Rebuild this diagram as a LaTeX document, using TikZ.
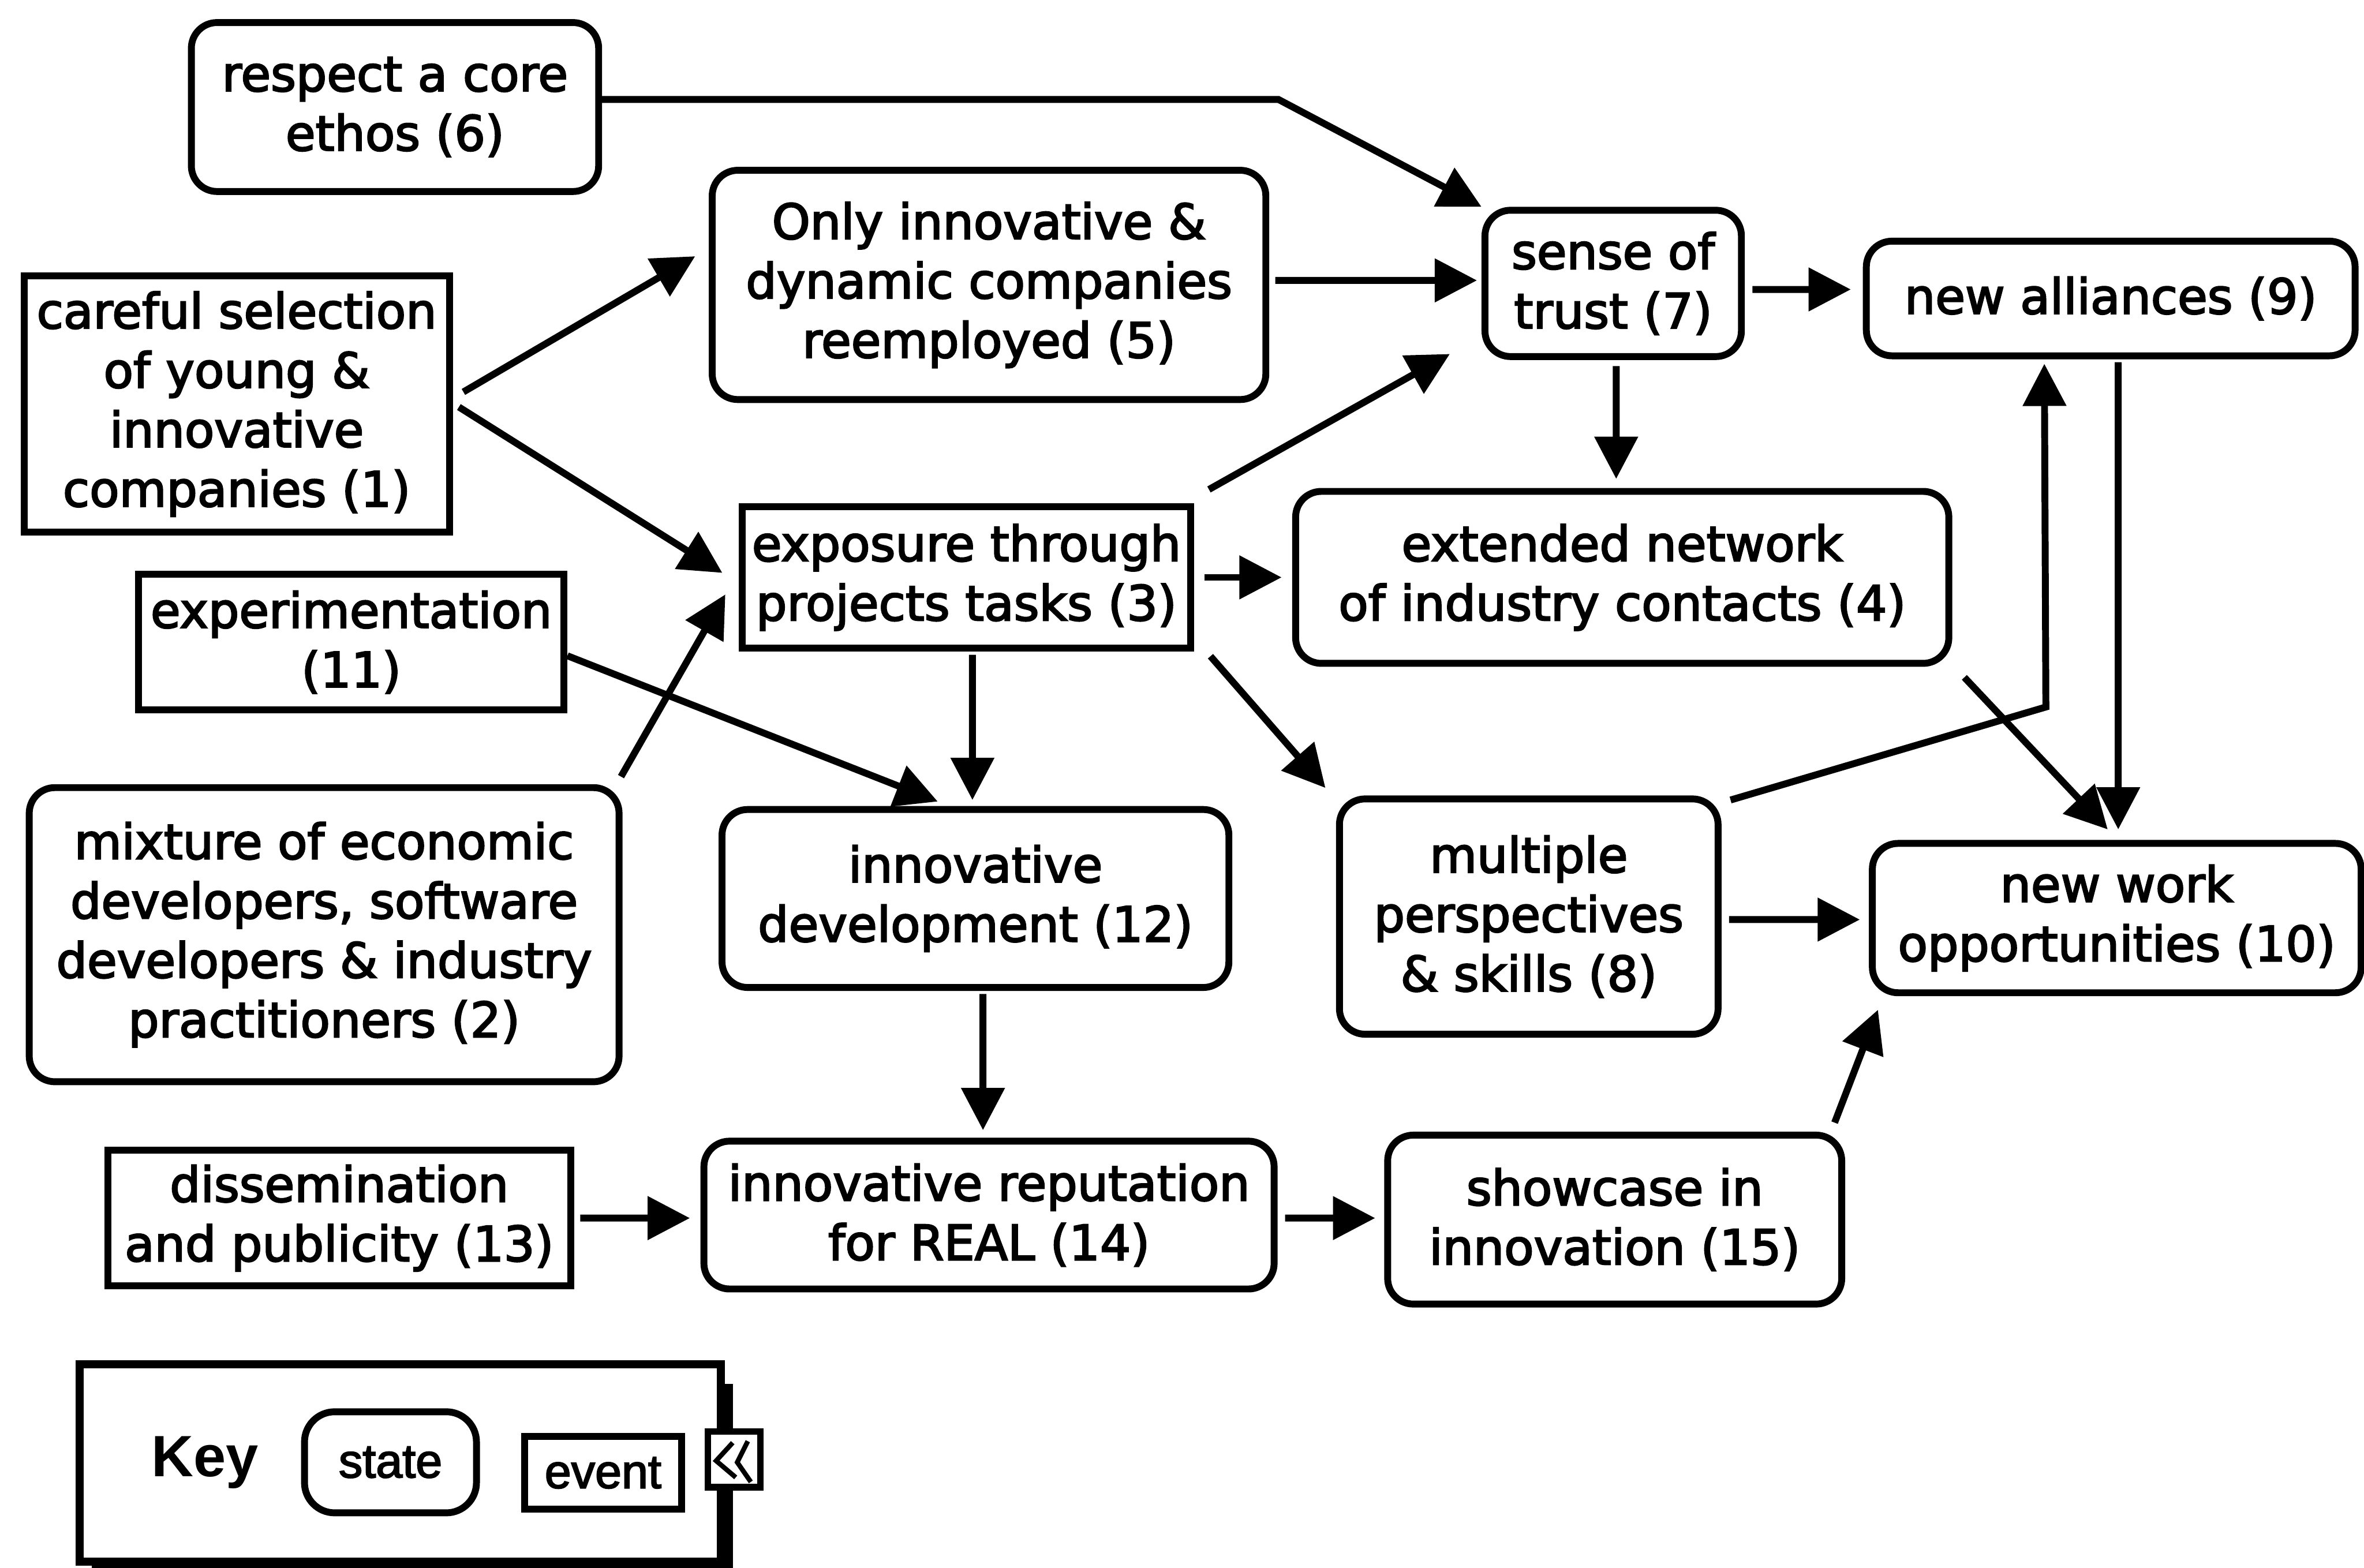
\documentclass[tikz,border=0pt]{standalone}
\usepackage{fontspec}
\usetikzlibrary{arrows.meta}
\newfontfamily\nodefont[FakeBold=3]{DejaVu Sans}
\newfontfamily\keyfont[FakeBold=2.5]{Liberation Sans}
\newfontfamily\keyboldfont{Liberation Sans Bold}
\begin{document}
\begin{tikzpicture}[x=0.01cm,y=-0.01cm,
  box/.style={draw, line width=1.3pt, align=center, inner sep=0pt,
    font=\nodefont\fontsize{9.15}{11.2}\selectfont},
  state/.style={box, rounded corners=0.17cm},
  event/.style={box},
  arr/.style={line width=1.3pt, -{Triangle[length=0.28cm,width=0.28cm]}},
  keytext/.style={font=\keyfont\fontsize{9}{11}\selectfont}]
\useasboundingbox (0,0) rectangle (1568,1040);

% states and events
\node[state, minimum width=2.70cm, minimum height=1.12cm] (n6) at (262,71) {respect a core\\ethos (6)};
\node[event, minimum width=2.82cm, minimum height=1.70cm] (n1) at (157,268) {careful selection\\of young \&\\innovative\\companies (1)};
\node[state, minimum width=3.67cm, minimum height=1.52cm] (n5) at (656,189) {Only innovative \&\\dynamic companies\\reemployed (5)};
\node[state, minimum width=1.70cm, minimum height=0.97cm] (n7) at (1070,188) {sense of\\trust (7)};
\node[state, minimum width=3.24cm, minimum height=0.76cm] (n9) at (1400,198) {new alliances (9)};
\node[event, minimum width=2.97cm, minimum height=0.94cm] (n3) at (641,383) {exposure through\\projects tasks (3)};
\node[state, minimum width=4.33cm, minimum height=1.14cm] (n4) at (1076,383) {extended network\\of industry contacts (4)};
\node[event, minimum width=2.82cm, minimum height=0.90cm] (n11) at (233,426) {experimentation\\(11)};
\node[state, minimum width=3.91cm, minimum height=1.95cm] (n2) at (215,620) {mixture of economic\\developers, software\\developers \& industry\\practitioners (2)};
\node[state, minimum width=3.36cm, minimum height=1.18cm] (n12) at (647,596) {innovative\\development (12)};
\node[state, minimum width=2.51cm, minimum height=1.56cm] (n8) at (1014,608) {multiple\\perspectives\\\& skills (8)};
\node[state, minimum width=3.24cm, minimum height=0.99cm] (n10) at (1404,609) {new work\\opportunities (10)};
\node[event, minimum width=3.07cm, minimum height=0.90cm] (n13) at (225,808) {dissemination\\and publicity (13)};
\node[state, minimum width=3.78cm, minimum height=0.98cm] (n14) at (656,806) {innovative reputation\\for REAL (14)};
\node[state, minimum width=3.01cm, minimum height=1.12cm] (n15) at (1071,809) {showcase in\\innovation (15)};

% bend points
\coordinate (b67) at (848,66);
\coordinate (b89) at (1357,469);

% connectors
\draw[arr] ([yshift=0.05cm]n6.east) -- (b67) -- (n7.north west);
\draw[arr] ([xshift=0.07cm,yshift=0.08cm]n1.east) -- ([xshift=-0.09cm,yshift=0.19cm]n5.west);
\draw[arr] ([xshift=0.04cm,yshift=-0.02cm]n1.east) -- ([xshift=-0.11cm,yshift=0.03cm]n3.west);
\draw[arr] ([xshift=0.04cm,yshift=0.03cm]n5.east) -- ([xshift=-0.03cm,yshift=0.02cm]n7.west);
\draw[arr] ([xshift=0.1cm,yshift=0.09cm]n3.north east) -- ([xshift=-0.21cm,yshift=0.04cm]n7.south west);
\draw[arr] ([xshift=0.05cm,yshift=-0.04cm]n7.east) -- ([xshift=-0.08cm,yshift=0.06cm]n9.west);
\draw[arr] ([xshift=0.02cm,yshift=-0.04cm]n7.south) -- ([xshift=-0.04cm,yshift=0.06cm]n4.north);
\draw[arr] ([xshift=0.07cm]n3.east) -- ([xshift=-0.07cm]n4.west);
\draw[arr] ([yshift=-0.09cm]n11.east) -- ([xshift=-0.25cm,yshift=0.03cm]n12.north);
\draw[arr] ([xshift=-0.01cm,yshift=0.05cm]n2.north east) -- ([xshift=-0.09cm,yshift=0.38cm]n3.south west);
\draw[arr] ([xshift=0.04cm,yshift=-0.02cm]n3.south) -- ([xshift=-0.02cm,yshift=0.04cm]n12.north);
\draw[arr] ([xshift=0.11cm,yshift=-0.03cm]n3.south east) -- ([xshift=-0.07cm,yshift=0.05cm]n8.north west);
\draw[arr] ([xshift=0.08cm,yshift=-0.07cm]n4.south east) -- ([xshift=-0.06cm,yshift=0.07cm]n10.north);
\draw[arr] ([xshift=0.05cm,yshift=-0.02cm]n9.south) -- ([xshift=0.01cm,yshift=0.07cm]n10.north);
\draw[arr] ([xshift=0.06cm,yshift=-0.03cm]n8.north east) -- (b89) -- ([xshift=-0.44cm,yshift=-0.03cm]n9.south);
\draw[arr] ([xshift=0.05cm,yshift=-0.02cm]n8.east) -- ([xshift=-0.06cm,yshift=-0.01cm]n10.west);
\draw[arr] ([xshift=0.05cm,yshift=-0.02cm]n12.south) -- ([xshift=-0.04cm,yshift=0.05cm]n14.north);
\draw[arr] ([xshift=0.04cm]n13.east) -- ([xshift=-0.07cm,yshift=-0.02cm]n14.west);
\draw[arr] ([xshift=0.05cm,yshift=-0.02cm]n14.east) -- ([xshift=-0.06cm,yshift=0.01cm]n15.west);
\draw[arr] ([xshift=-0.07cm,yshift=0.06cm]n15.north east) -- ([xshift=0.06cm,yshift=-0.09cm]n10.south west);

% legend panel with drop shadow
\fill (61,918) rectangle (486,1040);
\node[draw, fill=white, line width=1.5pt, minimum width=4.25cm, minimum height=1.31cm, inner sep=0pt] (key) at (265.5,970.5) {};
\node[font=\keyboldfont\fontsize{11}{13}\selectfont] (keylbl) at (136,970) {Key};
\node[keytext, draw, line width=1.3pt, rounded corners=0.2cm, minimum width=1.14cm, minimum height=0.67cm, inner sep=0pt] (kstate) at (259,970) {state};
\node[keytext, draw, line width=1.3pt, minimum width=1.04cm, minimum height=0.48cm, inner sep=0pt] (kevent) at (400,977) {event};
\node[draw, fill=white, line width=1.2pt, minimum width=0.35cm, minimum height=0.37cm, inner sep=0pt] (tab) at (487,968) {};
\draw[line width=0.9pt] ([shift={(-1,-11)}]tab.center) -- ([shift={(-12,1)}]tab.center) -- ([shift={(1,12)}]tab.center);
\draw[line width=0.9pt] ([shift={(9,-12)}]tab.center) -- ([shift={(2,2)}]tab.center) -- ([shift={(11,15)}]tab.center);
\end{tikzpicture}
\end{document}
